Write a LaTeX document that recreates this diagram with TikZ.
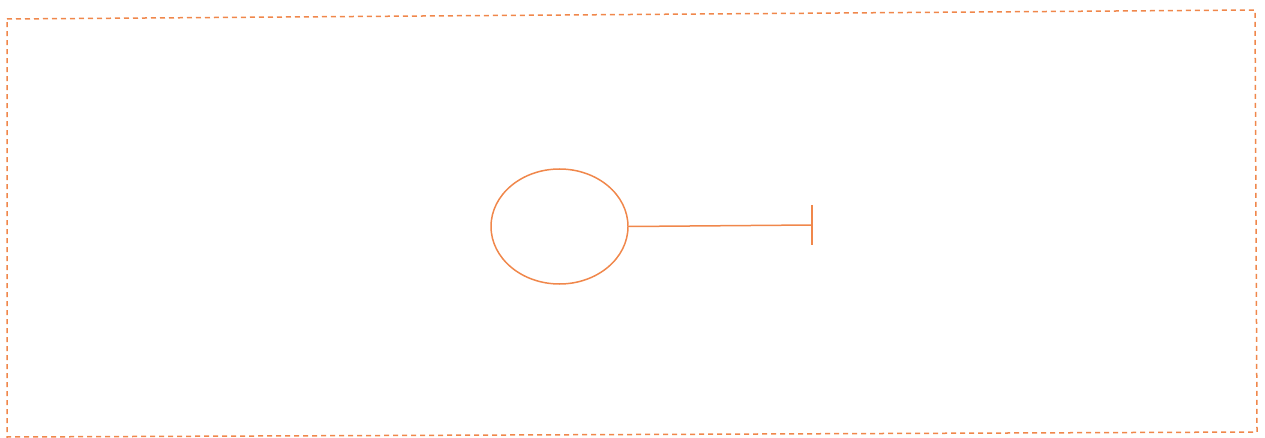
\documentclass[tikz,border=0pt]{standalone}
\usetikzlibrary{shapes.geometric}
\definecolor{scanorange}{RGB}{240,135,75}
\begin{document}
\begin{tikzpicture}[x=1pt,y=-1pt,
  frame/.style={draw=scanorange,line width=1.5pt,dash pattern=on 5pt off 4pt},
  bulb/.style={draw=scanorange,line width=1.5pt,ellipse,minimum width=137pt,minimum height=115pt,inner sep=0pt},
  stem/.style={draw=scanorange,line width=1.5pt}]
\useasboundingbox (0,0) rectangle (1265,438);
\coordinate (tl) at (7,19);
\coordinate (tr) at (1255,10);
\coordinate (br) at (1257,432);
\coordinate (bl) at (7,437);
\draw[frame] (tl) -- (tr) -- (br) -- (bl) -- cycle;
\node[bulb] (e) at (559.5,226.5) {};
\coordinate (s) at (812,225);
\coordinate (bt) at (812,205);
\coordinate (bb) at (812,245);
\draw[stem] (e.east) -- (s);
\draw[stem] (bt) -- (bb);
\end{tikzpicture}
\end{document}
